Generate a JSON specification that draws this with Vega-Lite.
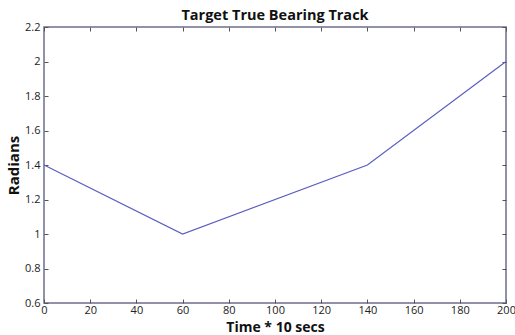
{
  "$schema": "https://vega.github.io/schema/vega-lite/v6.json",
  "autosize": "none",
  "width": 462,
  "height": 276,
  "padding": {"left": 44, "top": 27, "right": 9, "bottom": 32},
  "background": "white",
  "config": {
    "font": "Open Sans",
    "view": {"stroke": "#6e6e8e", "strokeWidth": 1.5},
    "axis": {
      "domain": false,
      "grid": false,
      "tickSize": -4,
      "tickColor": "#555555",
      "labelFont": "Open Sans",
      "labelFontSize": 11,
      "labelColor": "#222222",
      "titleFont": "Open Sans",
      "titleFontWeight": "bold",
      "titleFontSize": 15,
      "titleColor": "#111111"
    }
  },
  "title": {
    "text": "Target True Bearing Track",
    "font": "Open Sans",
    "fontSize": 14.5,
    "fontWeight": "bold",
    "color": "#111111",
    "anchor": "middle",
    "offset": -2
  },
  "data": {
    "values": [
      {"t": 0, "r": 1.4},
      {"t": 60, "r": 1.0},
      {"t": 140, "r": 1.4},
      {"t": 200, "r": 2.0}
    ]
  },
  "layer": [
    {
      "mark": {"type": "line", "color": "#5a5fc0", "strokeWidth": 1.2},
      "encoding": {
        "x": {
          "field": "t", "type": "quantitative",
          "scale": {"domain": [0, 200], "nice": false, "zero": false},
          "axis": {"orient": "bottom", "values": [0,20,40,60,80,100,120,140,160,180,200], "format": "d", "title": "Time * 10 secs", "titleFontSize": 14, "labelPadding": 5, "titlePadding": 5, "titleBaseline": "top", "labelFlush": false}
        },
        "y": {
          "field": "r", "type": "quantitative",
          "scale": {"domain": [0.6, 2.2], "nice": false, "zero": false},
          "axis": {"orient": "left", "values": [0.6,0.8,1,1.2,1.4,1.6,1.8,2,2.2], "format": "~g", "title": "Radians", "labelPadding": 8, "titlePadding": 3, "labelFlush": false}
        }
      }
    },
    {
      "mark": {"type": "line", "opacity": 0},
      "encoding": {
        "x": {
          "field": "t", "type": "quantitative",
          "axis": {"orient": "top", "values": [0,20,40,60,80,100,120,140,160,180,200], "labels": false, "title": null}
        },
        "y": {
          "field": "r", "type": "quantitative",
          "axis": {"orient": "right", "values": [0.6,0.8,1,1.2,1.4,1.6,1.8,2,2.2], "labels": false, "title": null}
        }
      }
    }
  ],
  "resolve": {"axis": {"x": "independent", "y": "independent"}}
}
